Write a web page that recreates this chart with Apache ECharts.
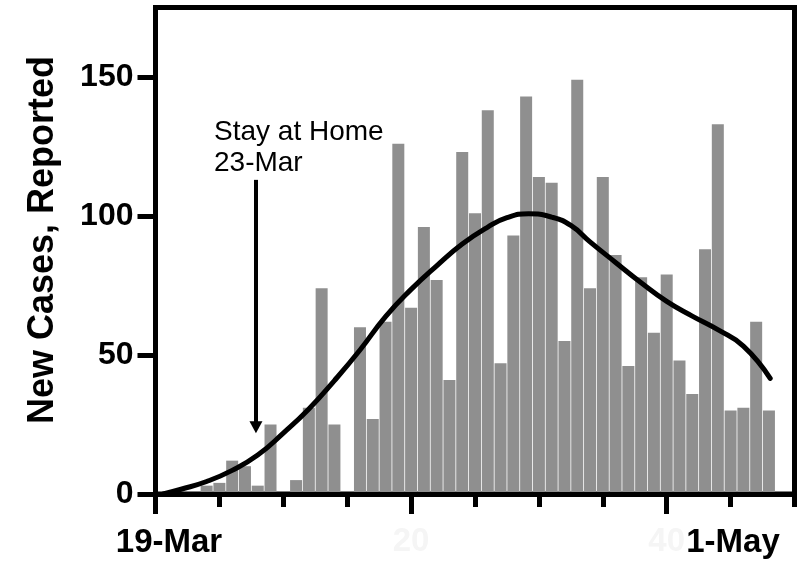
<!DOCTYPE html>
<html>
<head>
<meta charset="utf-8">
<script src="https://cdn.jsdelivr.net/npm/echarts@6/dist/echarts.min.js"></script>
<style>
  html, body { margin: 0; padding: 0; background: #fff; }
  #chart { width: 803px; height: 562px; }
</style>
</head>
<body>
<div id="chart"></div>
<script>
// Daily reported new cases, indexed by day since 19-Mar
const caseDays = [4, 5, 6, 7, 8, 9, 10, 11, 12, 13, 14, 15, 16, 17, 18, 19, 20, 21, 22, 23, 24, 25, 26,
  27, 28, 29, 30, 31, 32, 33, 34, 35, 36, 37, 38, 39, 40, 41, 42, 43, 44, 45, 46, 47, 48];
const newCases = [3, 4, 12, 10, 3, 25, 0, 5, 31, 74, 25, 0, 60, 27, 62, 126, 67, 96, 77, 41, 123, 101, 138,
  47, 93, 143, 114, 112, 55, 149, 74, 114, 86, 46, 78, 58, 79, 48, 36, 88, 133, 30, 31, 62, 30];

// Smoothed trend curve
const trendDays = [0.6, 2, 4, 6, 8, 10, 12, 14, 16, 18, 20, 22, 24, 26, 27.5, 29.2, 31, 32.5, 34, 36, 38,
  40, 42, 44, 46, 48.1];
const trendValues = [0, 1.7, 4.5, 8.5, 14, 21.9, 30.6, 40.8, 51.8, 63.8, 73.6, 82.1, 89.9, 96.0, 99.4, 100.8,
  99.6, 96.6, 90.7, 83.3, 76, 69.3, 64, 59.1, 53.2, 41.6];

// Axis ticks and labels
const yTickValues = [0, 50, 100, 150];
const xLongTicks = [0, 20, 40];
const xNumberLabels = [20, 40];
const dateLabels = ['19-Mar', '1-May'];

// Annotation
const noteLines = ['Stay at Home', '23-Mar'];
const arrowDay = 7.86;
const arrowFrom = 113;
const arrowTo = 24;

const FONT = "'Liberation Sans', Arial, Helvetica, sans-serif";

const chart = echarts.init(document.getElementById('chart'));

const barData = caseDays.map((d, i) => [d, newCases[i]]);
const trendData = trendDays.map((d, i) => [d, trendValues[i]]);

chart.setOption({
  animation: false,
  grid: {
    left: 155.5, right: 8.5, top: 7.5, bottom: 68,
    show: true, borderColor: '#000', borderWidth: 5, backgroundColor: 'transparent'
  },
  xAxis: [
    {
      type: 'value', min: 0, max: 50, interval: 5, z: 5,
      axisLine: { show: true, lineStyle: { color: '#000', width: 5 } },
      axisTick: { show: true, length: 13, lineStyle: { color: '#000', width: 5 } },
      axisLabel: { show: false },
      splitLine: { show: false }
    },
    {
      type: 'value', min: 0, max: 50, interval: 5, position: 'bottom', z: 5,
      axisLine: { show: false },
      axisTick: { show: true, length: 20, customValues: xLongTicks, lineStyle: { color: '#000', width: 5 } },
      axisLabel: {
        show: true, customValues: xNumberLabels, margin: 31,
        color: '#f5f5f5', fontSize: 33, fontWeight: 'bold', fontFamily: FONT
      },
      splitLine: { show: false }
    }
  ],
  yAxis: {
    type: 'value', min: 0, max: 175, interval: 50, z: 5,
    axisLine: { show: true, lineStyle: { color: '#000', width: 5 } },
    axisTick: { show: true, length: 18, customValues: yTickValues, lineStyle: { color: '#000', width: 5 } },
    axisLabel: {
      show: true, customValues: yTickValues, margin: 22,
      color: '#000', fontSize: 32, fontWeight: 'bold', fontFamily: FONT
    },
    splitLine: { show: false }
  },
  series: [
    {
      type: 'bar',
      data: barData,
      barWidth: 12,
      itemStyle: { color: '#8f8f8f' },
      markLine: {
        silent: true,
        symbol: ['none', 'triangle'],
        symbolSize: [13, 12],
        label: { show: false },
        lineStyle: { color: '#000', width: 4, type: 'solid' },
        data: [[{ coord: [arrowDay, arrowFrom] }, { coord: [arrowDay, arrowTo] }]]
      }
    },
    {
      type: 'line',
      data: trendData,
      smooth: 0.5,
      showSymbol: false,
      symbol: 'none',
      lineStyle: { color: '#000', width: 5, cap: 'round', join: 'round' }
    }
  ],
  graphic: [
    {
      type: 'text', x: 43, y: 240, rotation: Math.PI / 2,
      style: {
        text: 'New Cases, Reported', fill: '#000',
        font: "bold 36px " + FONT, align: 'center', verticalAlign: 'middle'
      }
    },
    {
      type: 'text', x: 214, y: 132,
      style: { text: noteLines[0], fill: '#000', font: "28px " + FONT, align: 'left', verticalAlign: 'middle' }
    },
    {
      type: 'text', x: 214, y: 163,
      style: { text: noteLines[1], fill: '#000', font: "28px " + FONT, align: 'left', verticalAlign: 'middle' }
    },
    {
      type: 'text', x: 169, y: 543,
      style: { text: dateLabels[0], fill: '#000', font: "bold 33px " + FONT, align: 'center', verticalAlign: 'middle' }
    },
    {
      type: 'text', x: 733, y: 543,
      style: { text: dateLabels[1], fill: '#000', font: "bold 33px " + FONT, align: 'center', verticalAlign: 'middle' }
    }
  ]
});
</script>
</body>
</html>
